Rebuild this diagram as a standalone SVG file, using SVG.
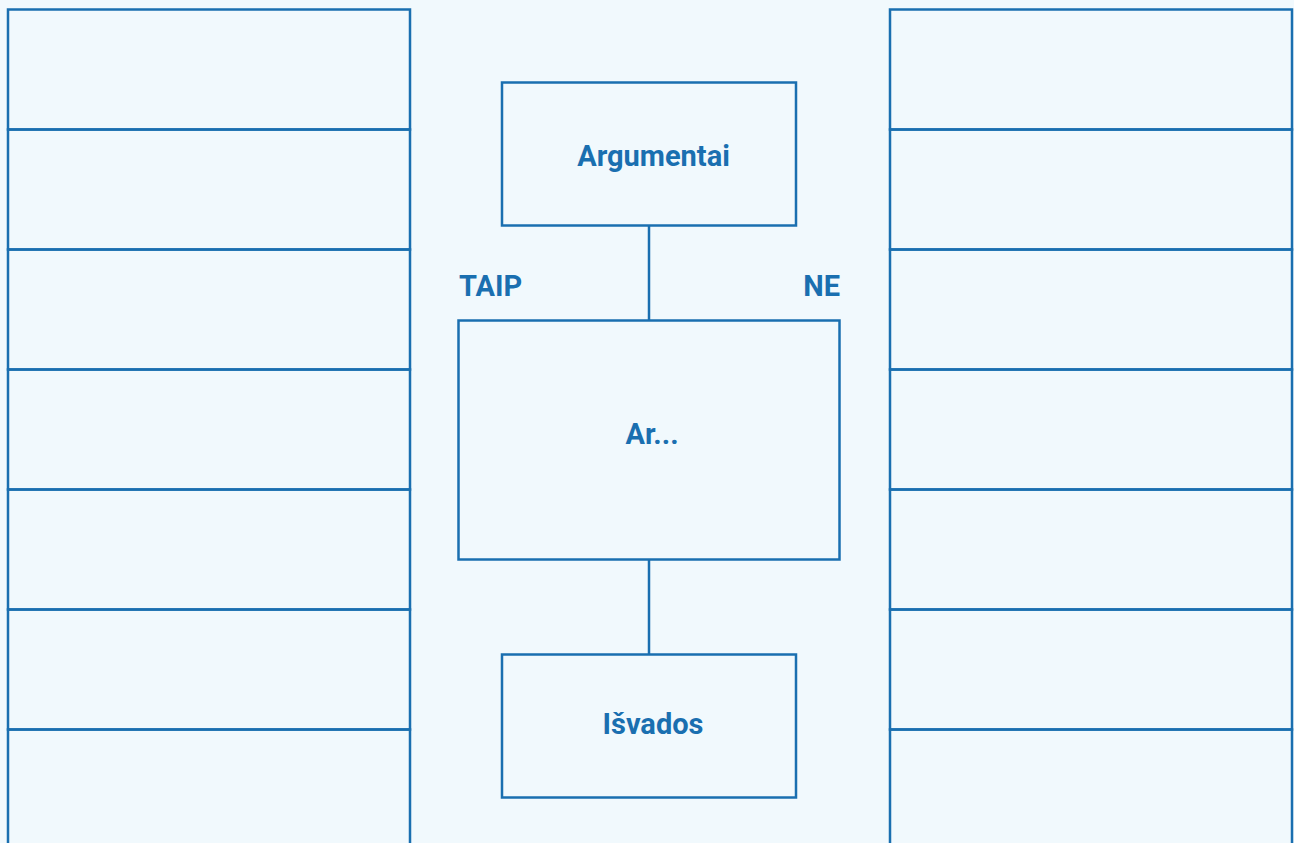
<svg xmlns="http://www.w3.org/2000/svg" width="1294" height="843" viewBox="0 0 1294 843">
<style>
.box{fill:none;stroke:#1a6fb0;stroke-width:2.5}
.ln{stroke:#1a6fb0;stroke-width:2.5;fill:none}
.t{font-family:Roboto,"Liberation Sans",sans-serif;font-weight:bold;font-size:29px;fill:#1a6fb0}
</style>
<rect width="1294" height="843" fill="#f1f9fd"/>
<g id="left-column">
<rect class="box" x="8" y="9.5" width="402" height="120"/>
<rect class="box" x="8" y="129.5" width="402" height="120"/>
<rect class="box" x="8" y="249.5" width="402" height="120"/>
<rect class="box" x="8" y="369.5" width="402" height="120"/>
<rect class="box" x="8" y="489.5" width="402" height="120"/>
<rect class="box" x="8" y="609.5" width="402" height="120"/>
<rect class="box" x="8" y="729.5" width="402" height="120"/>
</g>
<g id="right-column">
<rect class="box" x="890" y="9.5" width="402" height="120"/>
<rect class="box" x="890" y="129.5" width="402" height="120"/>
<rect class="box" x="890" y="249.5" width="402" height="120"/>
<rect class="box" x="890" y="369.5" width="402" height="120"/>
<rect class="box" x="890" y="489.5" width="402" height="120"/>
<rect class="box" x="890" y="609.5" width="402" height="120"/>
<rect class="box" x="890" y="729.5" width="402" height="120"/>
</g>
<g id="connectors">
<line class="ln" x1="649" y1="226" x2="649" y2="320"/>
<line class="ln" x1="649" y1="560" x2="649" y2="654"/>
</g>
<g id="argumentai">
<rect class="box" x="502" y="82.5" width="294" height="143"/>
<text class="t" x="653.5" y="166" text-anchor="middle">Argumentai</text>
</g>
<g id="ar">
<rect class="box" x="458.5" y="320.5" width="381" height="239"/>
<text class="t" x="652" y="444" text-anchor="middle">Ar...</text>
</g>
<g id="isvados">
<rect class="box" x="502" y="654.5" width="294" height="143"/>
<text class="t" x="653" y="734" text-anchor="middle">Išvados</text>
</g>
<g id="labels">
<text class="t" x="459" y="296">TAIP</text>
<text class="t" x="840" y="296" text-anchor="end">NE</text>
</g>
</svg>
